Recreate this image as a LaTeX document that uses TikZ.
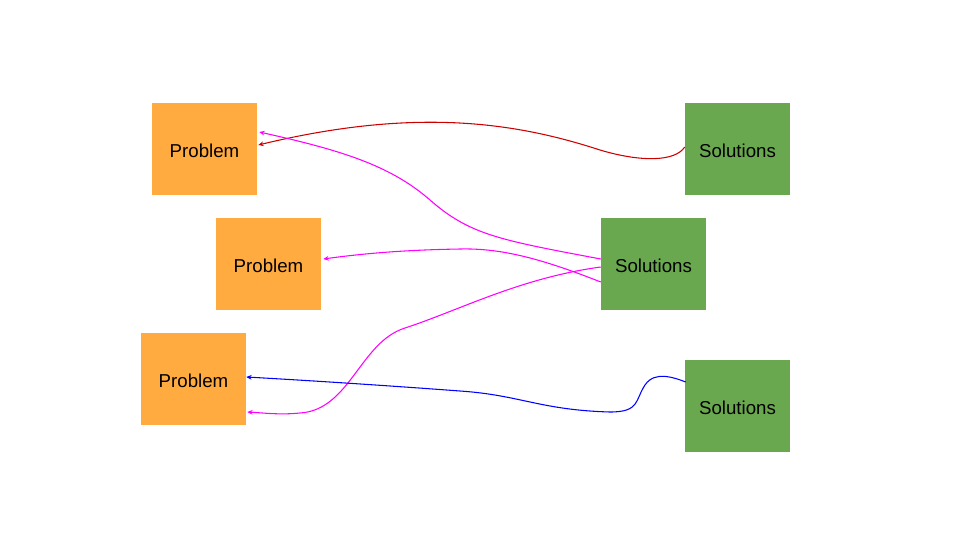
\documentclass[tikz,border=0pt]{standalone}
\usepackage{fontspec}
\setmainfont{Liberation Sans}
\usetikzlibrary{calc,arrows.meta}
\definecolor{probfill}{HTML}{FFAB40}
\definecolor{solfill}{HTML}{6AA84F}
\definecolor{darkred}{HTML}{CC0000}
\definecolor{linkpink}{HTML}{FF00FF}
\definecolor{linkblue}{HTML}{0000FF}
\tikzset{
  probbox/.style={fill=probfill, minimum width=78.75pt, minimum height=69pt, inner sep=0pt, text height=13pt, text depth=0pt, font=\fontsize{14}{16}\selectfont},
  solbox/.style={fill=solfill, minimum width=78.75pt, minimum height=69pt, inner sep=0pt, text height=13pt, text depth=0pt, font=\fontsize{14}{16}\selectfont},
  link/.style={-{Stealth[length=4pt,width=3.5pt]}, line width=0.8pt}
}
\begin{document}
\begin{tikzpicture}[x=0.75pt,y=0.75pt,yscale=-1]
\useasboundingbox (0,0) rectangle (960,540);

% Problems
\node [probbox] (prob1) at (204.5,149) {Problem};
\node [probbox] (prob2) at (268.5,264) {Problem};
\node [probbox] (prob3) at (193.5,379) {Problem};

% Solutions
\node [solbox] (sol1) at (737.5,149) {Solutions};
\node [solbox] (sol2) at (653.5,264) {Solutions};
\node [solbox] (sol3) at (737.5,406) {Solutions};

% red link
\draw [link, darkred] ($(sol1.west)+(0,-2)$) .. controls (675,162) and (640,162) .. (600,150) .. controls (520,124) and (420,106) .. ($(prob1.east)+(1,-4)$);

% magenta links
\draw [link, linkpink] ($(sol2.west)+(0,-5)$) .. controls (500,240) and (470,235) .. (430,200) .. controls (390,165) and (340,150) .. ($(prob1.east)+(2,-17)$);
\draw [link, linkpink] ($(sol2.west)+(0,18)$) .. controls (540,258) and (500,248) .. (460,249) .. controls (400,250) and (360,254) .. ($(prob2.east)+(2,-5)$);
\draw [link, linkpink] ($(sol2.west)+(0,3)$) .. controls (520,278) and (460,310) .. (405,328) .. controls (360,342) and (350,410) .. (300,413) .. controls (280,415) and (265,413) .. ($(prob3.east)+(1,33)$);

% blue link
\draw [link, linkblue] ($(sol3.west)+(1,-24)$) .. controls (675,378) and (655,370) .. (645,385) .. controls (635,400) and (640,412) .. (610,412) .. controls (540,410) and (520,395) .. (460,391) .. controls (380,385) and (300,380) .. ($(prob3.east)+(0,-2)$);

\end{tikzpicture}
\end{document}
